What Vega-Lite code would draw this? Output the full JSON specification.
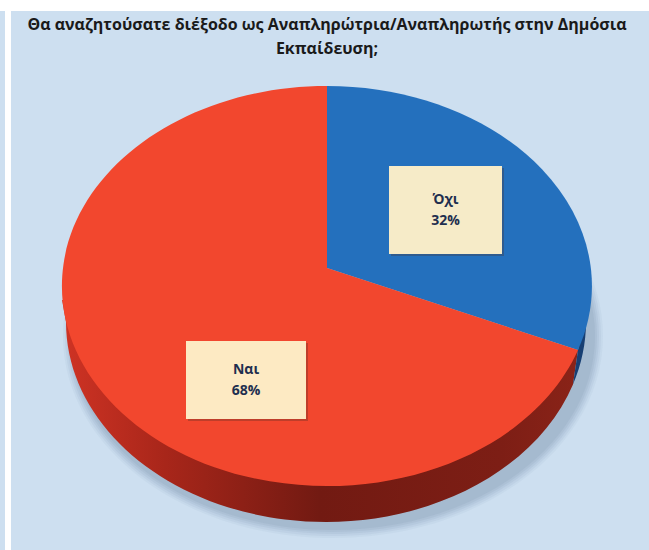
{
"$schema":"https://vega.github.io/schema/vega-lite/v6.json",
"width":638,"height":539,
"autosize":{"type":"none"},
"padding":{"left":11,"top":11,"right":0,"bottom":0},
"background":"#ffffff",
"view":{"fill":"#cddff0","stroke":null},
"title":{"text":["Θα αναζητούσατε διέξοδο ως Αναπληρώτρια/Αναπληρωτής στην Δημόσια","Εκπαίδευση;"],"font":"Open Sans","fontSize":16,"fontWeight":"bold","color":"#1a1a1a","anchor":"middle","dx":-3,"lineHeight":24,"offset":-64,"baseline":"bottom"},
"data":{"values":[{"answer":"Όχι","share":0.32},{"answer":"Ναι","share":0.68}]},
"resolve":{"scale":{"shape":"independent","color":"independent"}},
"layer":[
{"transform":[{"filter":{"field":"answer","equal":"Ναι"}}],"mark":{"type":"rule","color":"#cddff0","strokeWidth":5},"encoding":{"x":{"value":-8.5}}},
{"transform":[{"filter":{"field":"answer","equal":"Ναι"}}],"mark":{"type":"point","filled":true,"size":4,"fill":"#7f94ad","opacity":0.08,"shape":"M-267,55.5 A270,202 0 1 0 273,55.5 A270,202 0 1 0 -267,55.5 Z"}},
{"transform":[{"filter":{"field":"answer","equal":"Ναι"}}],"mark":{"type":"point","filled":true,"size":4,"fill":"#7f94ad","opacity":0.1,"shape":"M-265,55.5 A268,200 0 1 0 271,55.5 A268,200 0 1 0 -265,55.5 Z"}},
{"transform":[{"filter":{"field":"answer","equal":"Ναι"}}],"mark":{"type":"point","filled":true,"size":4,"fill":"#7f94ad","opacity":0.12,"shape":"M-263,55.5 A266,198 0 1 0 269,55.5 A266,198 0 1 0 -263,55.5 Z"}},
{"transform":[{"filter":{"field":"answer","equal":"Ναι"}}],"mark":{"type":"point","filled":true,"size":4,"fill":"#7f94ad","opacity":0.14,"shape":"M-261,55.5 A264,196 0 1 0 267,55.5 A264,196 0 1 0 -261,55.5 Z"}},
{"transform":[{"filter":{"field":"answer","equal":"Ναι"}}],"mark":{"type":"point","filled":true,"size":4,"fill":"#7f94ad","opacity":0.16,"shape":"M-259,55.5 A262,194 0 1 0 265,55.5 A262,194 0 1 0 -259,55.5 Z"}},
{"transform":[{"filter":{"field":"answer","equal":"Ναι"}}],"mark":{"type":"point","filled":true,"size":4,"opacity":1,"fill":{"gradient":"linear","x1":0,"y1":0,"x2":1,"y2":0,"stops":[{"offset":0,"color":"#cf3324"},{"offset":0.2,"color":"#a8261a"},{"offset":0.5,"color":"#721a12"},{"offset":0.85,"color":"#7d1e15"},{"offset":1,"color":"#8a2318"}]},"shape":"M-268,19.5 L-264,41.5 A260,200 0 0 0 243,103.9 L248,69.5 Z"}},
{"transform":[{"filter":{"field":"answer","equal":"Όχι"}}],"mark":{"type":"point","filled":true,"size":4,"opacity":1,"fill":"#173f73","shape":"M248,69.5 L243,103.9 A260,200 0 0 0 256,41.5 L261,4.5 Z"}},
{"mark":{"type":"point","filled":true,"size":4,"opacity":1},"encoding":{
"shape":{"field":"answer","type":"nominal","legend":null,"scale":{"domain":["Όχι","Ναι"],"range":["M-3,-12.5 L-3,-194.5 A265,200 0 0 1 248,69.5 Z","M-3,-12.5 L248,69.5 A265,200 0 1 1 -3,-194.5 Z"]}},
"color":{"field":"answer","type":"nominal","legend":null,"scale":{"domain":["Όχι","Ναι"],"range":["#2470bd","#f2472e"]}}}},
{"mark":{"type":"point","filled":true,"size":4,"opacity":0.3,"fill":"#4a2a20","xOffset":2,"yOffset":2},"encoding":{
"x":{"field":"answer","type":"nominal","axis":null,"scale":{"type":"point","padding":0,"domain":["Όχι","Ναι"],"range":[434.5,235]}},
"y":{"field":"answer","type":"nominal","axis":null,"scale":{"type":"point","padding":0,"domain":["Όχι","Ναι"],"range":[199,369]}},
"shape":{"field":"answer","type":"nominal","legend":null,"scale":{"domain":["Όχι","Ναι"],"range":["M-56.5,-44 H56.5 V44 H-56.5 Z","M-60,-39 H60 V39 H-60 Z"]}}}},
{"mark":{"type":"point","filled":true,"size":4,"opacity":1},"encoding":{
"x":{"field":"answer","type":"nominal","axis":null},
"y":{"field":"answer","type":"nominal","axis":null},
"shape":{"field":"answer","type":"nominal","legend":null,"scale":{"domain":["Όχι","Ναι"],"range":["M-56.5,-44 H56.5 V44 H-56.5 Z","M-60,-39 H60 V39 H-60 Z"]}},
"color":{"field":"answer","type":"nominal","legend":null,"scale":{"domain":["Όχι","Ναι"],"range":["#f6ebc8","#fdeac3"]}}}},
{"mark":{"type":"text","font":"Open Sans","fontSize":14,"fontWeight":"bold","color":"#1f2f4f","dy":-10.5},"encoding":{
"x":{"field":"answer","type":"nominal","axis":null},
"y":{"field":"answer","type":"nominal","axis":null},
"text":{"field":"answer","type":"nominal"}}},
{"mark":{"type":"text","font":"Open Sans","fontSize":14,"fontWeight":"bold","color":"#1f2f4f","dy":10.5},"encoding":{
"x":{"field":"answer","type":"nominal","axis":null},
"y":{"field":"answer","type":"nominal","axis":null},
"text":{"field":"share","type":"quantitative","format":".0%"}}}
]
}
